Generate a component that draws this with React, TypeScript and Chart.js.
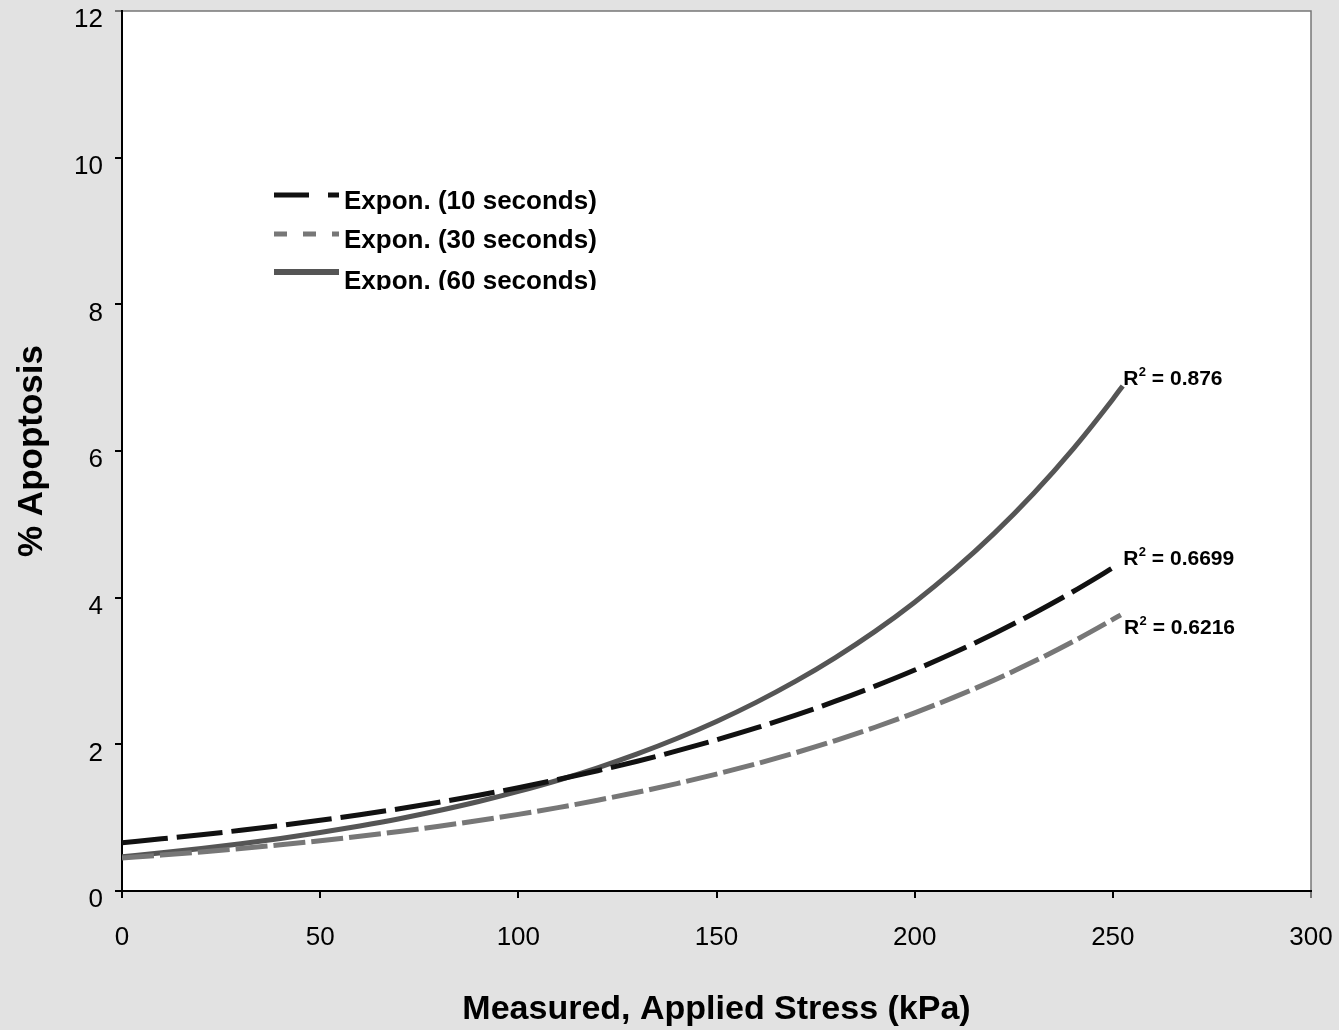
import React, { useEffect, useRef } from "react";
import { Chart, registerables } from "chart.js";

Chart.register(...registerables);

// ---------- data ----------
const xValues = [0, 10, 20, 30, 40, 50, 60, 70, 80, 90, 100, 110, 120, 130, 140, 150, 160, 170, 180, 190, 200, 210, 220, 230, 240, 250];

const apoptosis10s = [0.659, 0.711, 0.767, 0.828, 0.893, 0.964, 1.040, 1.122, 1.210, 1.306, 1.409, 1.520, 1.640, 1.770, 1.910, 2.061, 2.223, 2.399, 2.588, 2.793, 3.013, 3.251, 3.508, 3.785, 4.084, 4.406];
const apoptosis30s = [0.450, 0.490, 0.533, 0.580, 0.630, 0.686, 0.746, 0.812, 0.883, 0.961, 1.045, 1.137, 1.238, 1.346, 1.465, 1.594, 1.734, 1.886, 2.052, 2.233, 2.429, 2.643, 2.875, 3.128, 3.403, 3.703];
const apoptosis60s = [0.468, 0.521, 0.579, 0.644, 0.717, 0.797, 0.887, 0.986, 1.097, 1.220, 1.358, 1.510, 1.680, 1.869, 2.079, 2.312, 2.572, 2.861, 3.183, 3.540, 3.938, 4.381, 4.873, 5.421, 6.030, 6.707];

// final points of the trendlines (x, y)
const end30s = [252, 3.766];
const end60s = [252.5, 6.888];

const seriesNames = ["Expon. (10 seconds)", "Expon. (30 seconds)", "Expon. (60 seconds)"];

const r2Values = ["0.6699", "0.6216", "0.876"];
const r2AnchorX = [252.6, 252.8, 252.6];
const r2AnchorY = [4.45, 3.5, 6.9];

const xTickValues = [0, 50, 100, 150, 200, 250, 300];
const yTickValues = [0, 2, 4, 6, 8, 10, 12];

const xTitle = "Measured, Applied Stress (kPa)";
const yTitle = "% Apoptosis";

// ---------- style ----------
const FONT = "'Liberation Sans', Arial, Helvetica, sans-serif";
const BG = "#e2e2e2";
const COLORS = ["#111111", "#777777", "#555555"];

function toPoints(xs: number[], ys: number[], extra?: number[]) {
  const pts = xs.map((x, i) => ({ x, y: ys[i] }));
  if (extra) pts.push({ x: extra[0], y: extra[1] });
  return pts;
}

const backgroundPlugin = {
  id: "bgPlot",
  beforeDraw(chart: any) {
    const { ctx, chartArea: a, width, height } = chart;
    ctx.save();
    ctx.fillStyle = BG;
    ctx.fillRect(0, 0, width, height);
    ctx.fillStyle = "#ffffff";
    ctx.fillRect(a.left, a.top, a.right - a.left, a.bottom - a.top);
    ctx.strokeStyle = "#777777";
    ctx.lineWidth = 1.5;
    ctx.strokeRect(a.left, a.top, a.right - a.left, a.bottom - a.top);
    ctx.restore();
  },
};

const r2Plugin = {
  id: "r2Labels",
  afterDatasetsDraw(chart: any) {
    const { ctx, scales } = chart;
    ctx.save();
    ctx.fillStyle = "#000";
    ctx.textBaseline = "alphabetic";
    ctx.textAlign = "left";
    r2Values.forEach((v, i) => {
      const px = scales.x.getPixelForValue(r2AnchorX[i]);
      const py = scales.y.getPixelForValue(r2AnchorY[i]);
      ctx.font = `bold 21px ${FONT}`;
      ctx.fillText("R", px, py);
      const rw = ctx.measureText("R").width;
      ctx.font = `bold 13px ${FONT}`;
      ctx.fillText("2", px + rw + 0.5, py - 9);
      const sw = ctx.measureText("2").width;
      ctx.font = `bold 21px ${FONT}`;
      ctx.fillText(" = " + v, px + rw + sw + 0.5, py);
    });
    ctx.restore();
  },
};

const legendPlugin = {
  id: "insetLegend",
  afterDraw(chart: any) {
    const { ctx } = chart;
    const lineY = [195, 234, 272];
    const textY = [209, 248, 289];
    const dashes = [[35, 19], [13, 16], []];
    const widths = [5, 5, 6];
    ctx.save();
    ctx.beginPath();
    ctx.rect(0, 0, chart.width, 290);
    ctx.clip();
    seriesNames.forEach((name, i) => {
      ctx.strokeStyle = COLORS[i];
      ctx.lineWidth = widths[i];
      ctx.lineCap = "butt";
      ctx.setLineDash(dashes[i]);
      ctx.beginPath();
      ctx.moveTo(274, lineY[i]);
      ctx.lineTo(339, lineY[i]);
      ctx.stroke();
      ctx.setLineDash([]);
      ctx.fillStyle = "#000";
      ctx.font = `bold 26px ${FONT}`;
      ctx.textBaseline = "alphabetic";
      ctx.textAlign = "left";
      ctx.fillText(name, 344, textY[i]);
    });
    ctx.restore();
  },
};

export default function App() {
  const canvasRef = useRef<HTMLCanvasElement | null>(null);

  useEffect(() => {
    document.body.style.margin = "0";
    document.body.style.background = BG;
    const canvas = canvasRef.current;
    if (!canvas) return;
    Chart.defaults.font.family = FONT;

    const chart = new Chart(canvas, {
      type: "line",
      data: {
        datasets: [
          {
            label: seriesNames[0],
            data: toPoints(xValues, apoptosis10s),
            borderColor: COLORS[0],
            borderWidth: 5,
            borderDash: [46, 9],
            pointRadius: 0,
            fill: false,
            cubicInterpolationMode: "monotone",
          },
          {
            label: seriesNames[1],
            data: toPoints(xValues, apoptosis30s, end30s),
            borderColor: COLORS[1],
            borderWidth: 5,
            borderDash: [32, 6],
            pointRadius: 0,
            fill: false,
            cubicInterpolationMode: "monotone",
          },
          {
            label: seriesNames[2],
            data: toPoints(xValues, apoptosis60s, end60s),
            borderColor: COLORS[2],
            borderWidth: 5,
            pointRadius: 0,
            fill: false,
            cubicInterpolationMode: "monotone",
          },
        ],
      },
      options: {
        responsive: false,
        animation: false,
        devicePixelRatio: 1,
        layout: { padding: { top: 11, right: 28, bottom: 0, left: 0 } },
        plugins: {
          legend: { display: false },
          tooltip: { enabled: false },
        },
        scales: {
          x: {
            type: "linear",
            min: 0,
            max: 300,
            afterBuildTicks: (scale: any) => {
              scale.ticks = xTickValues.map((v) => ({ value: v }));
            },
            afterFit: (scale: any) => {
              scale.height = 139;
              scale.paddingLeft = 0;
              scale.paddingRight = 0;
            },
            grid: {
              drawOnChartArea: false,
              drawTicks: true,
              tickLength: 7,
              lineWidth: 2,
              color: (c: any) => (c.tick && c.tick.value === 300 ? "#777777" : "#000000"),
            },
            border: { display: true, color: "#000000", width: 2 },
            ticks: {
              color: "#000",
              font: { size: 26 },
              padding: 24,
              maxRotation: 0,
              autoSkip: false,
            },
            title: {
              display: true,
              text: xTitle,
              color: "#000",
              font: { size: 34, weight: "bold" },
              padding: { top: 0, bottom: 0 },
            },
          },
          y: {
            type: "linear",
            min: 0,
            max: 12,
            afterBuildTicks: (scale: any) => {
              scale.ticks = yTickValues.map((v) => ({ value: v }));
            },
            afterFit: (scale: any) => {
              scale.width = 122;
              scale.paddingTop = 0;
              scale.paddingBottom = 0;
            },
            grid: {
              drawOnChartArea: false,
              drawTicks: true,
              tickLength: 7,
              lineWidth: 2,
              color: (c: any) => (c.tick && c.tick.value === 12 ? "#777777" : "#000000"),
            },
            border: { display: true, color: "#000000", width: 2 },
            ticks: {
              color: "#000",
              font: { size: 26 },
              padding: 12,
              labelOffset: 9,
              autoSkip: false,
            },
            title: {
              display: true,
              text: yTitle,
              color: "#000",
              font: { size: 35, weight: "bold" },
              padding: { top: 11, bottom: 0 },
            },
          },
        },
      },
      plugins: [backgroundPlugin, r2Plugin, legendPlugin],
    } as any);

    return () => {
      chart.destroy();
    };
  }, []);

  return (
    <div style={{ position: "fixed", left: 0, top: 0, width: 1339, height: 1030, background: BG }}>
      <canvas ref={canvasRef} width={1339} height={1030} style={{ display: "block" }} />
    </div>
  );
}
